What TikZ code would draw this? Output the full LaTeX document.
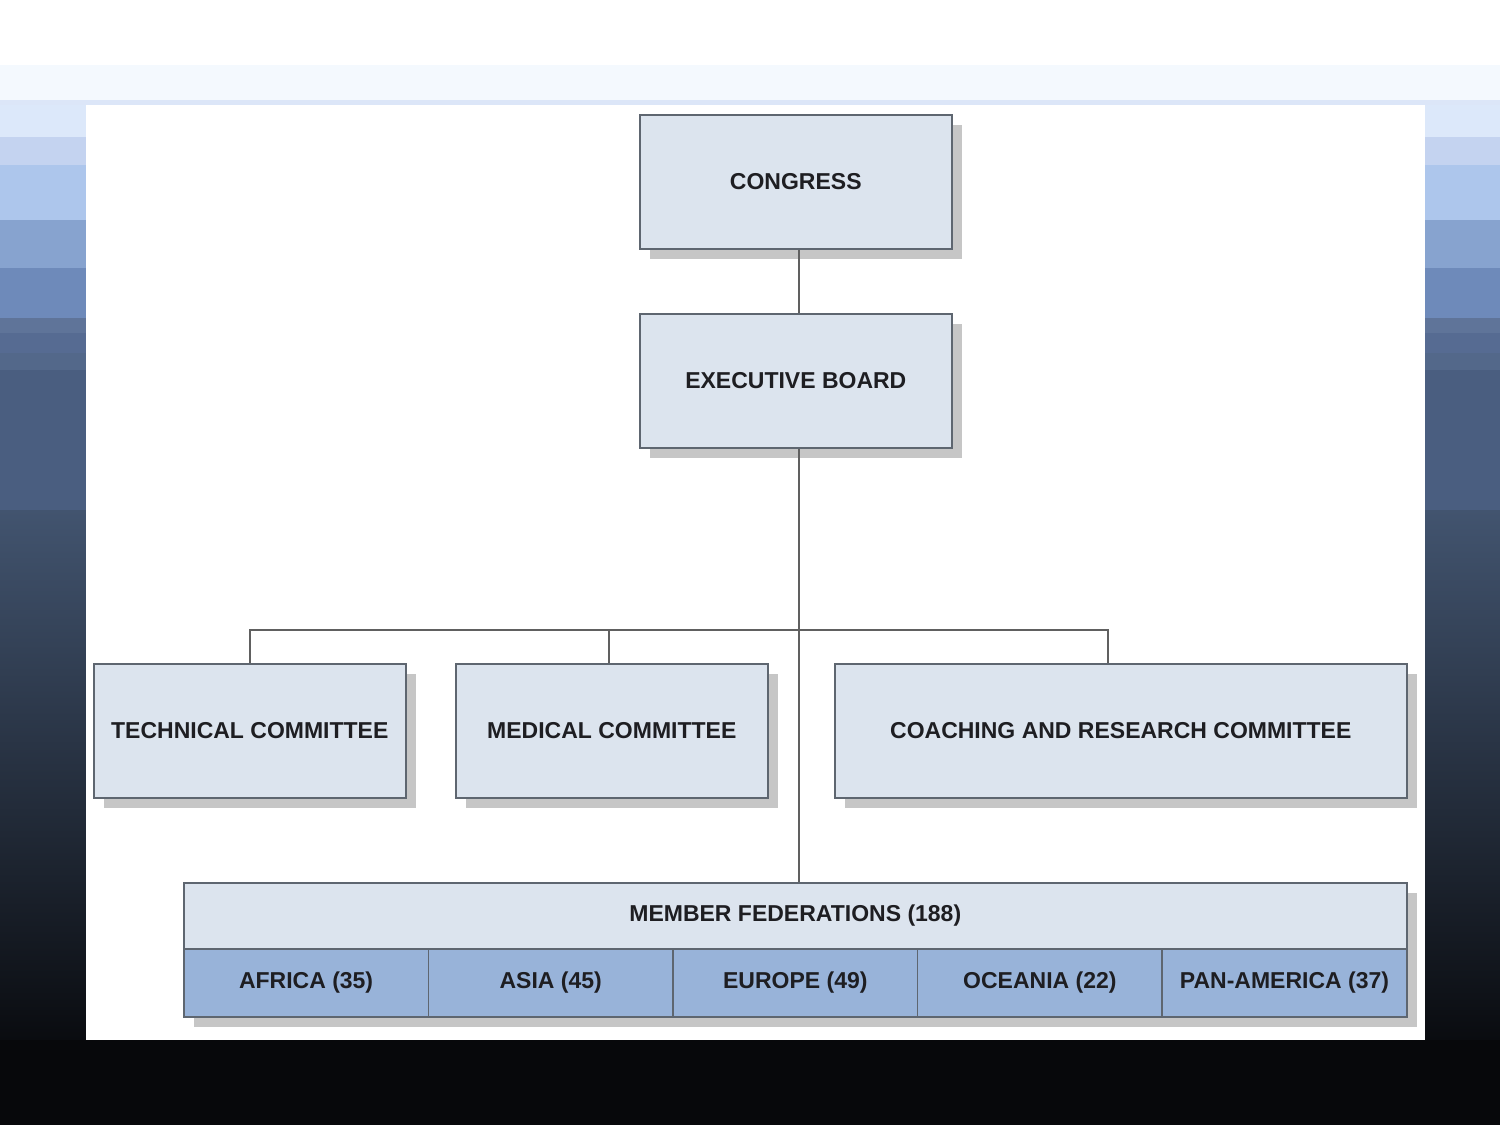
\documentclass[tikz,border=0pt]{standalone}
\usepackage{fontspec}
\setmainfont{Liberation Sans}
\usetikzlibrary{shadows}
\definecolor{boxfill}{HTML}{DCE4EE}
\definecolor{regfill}{HTML}{98B3D9}
\definecolor{boxline}{HTML}{5E6670}
\definecolor{txt}{HTML}{1E1E22}
\definecolor{shadowc}{HTML}{C6C6C6}
\definecolor{connc}{HTML}{606060}
\definecolor{bA}{HTML}{F4F9FE}
\definecolor{bB}{HTML}{DCE6F8}
\definecolor{bC}{HTML}{DCE8FA}
\definecolor{bD}{HTML}{C4D3F0}
\definecolor{bE}{HTML}{ADC6EC}
\definecolor{bF}{HTML}{87A3CF}
\definecolor{bG}{HTML}{6E8ABA}
\definecolor{bH}{HTML}{5F7499}
\definecolor{bI}{HTML}{566B92}
\definecolor{bJ}{HTML}{53688A}
\definecolor{bK}{HTML}{4A5E80}
\definecolor{bL}{HTML}{42546F}
\definecolor{bM}{HTML}{232C3C}
\definecolor{bN}{HTML}{0A0C10}
\definecolor{bO}{HTML}{07080B}
\begin{document}
\begin{tikzpicture}[x=0.5pt,y=-0.5pt,
  box/.style={draw=boxline, line width=0.8pt, fill=boxfill, inner sep=0pt,
    anchor=north west, text=txt, font=\bfseries\fontsize{11.5}{13}\selectfont,
    drop shadow={shadow xshift=5pt, shadow yshift=-5pt, fill=shadowc, opacity=1}},
  regbox/.style={box, fill=regfill, minimum width=122.3pt, minimum height=34pt},
  conn/.style={draw=connc, line width=1pt}]
\useasboundingbox (0,0) rectangle (1500,1125);
% background
\fill[white] (0,0) rectangle (1500,65);
\fill[bA] (0,65) rectangle (1500,100);
\fill[bB] (0,100) rectangle (1500,105);
\fill[bC] (0,105) rectangle (1500,137);
\fill[bD] (0,137) rectangle (1500,165);
\fill[bE] (0,165) rectangle (1500,220);
\fill[bF] (0,220) rectangle (1500,268);
\fill[bG] (0,268) rectangle (1500,318);
\fill[bH] (0,318) rectangle (1500,333);
\fill[bI] (0,333) rectangle (1500,353);
\fill[bJ] (0,353) rectangle (1500,370);
\fill[bK] (0,370) rectangle (1500,510);
\shade[top color=bL, middle color=bM, bottom color=bN] (0,510) rectangle (1500,1040);
\fill[bO] (0,1040) rectangle (1500,1125);
\fill[white] (86,105) rectangle (1425,1040);
% nodes
\node[box, minimum width=156pt, minimum height=67pt] (congress) at (639,114) {CONGRESS};
\node[box, minimum width=156pt, minimum height=67pt] (exec) at (639,313) {EXECUTIVE BOARD};
\node[box, minimum width=156pt, minimum height=67pt] (tech) at (93,663) {TECHNICAL COMMITTEE};
\node[box, minimum width=156pt, minimum height=67pt] (med) at (455,663) {MEDICAL COMMITTEE};
\node[box, minimum width=286pt, minimum height=67pt] (coach) at (834,663) {COACHING AND RESEARCH COMMITTEE};
\node[box, minimum width=611.5pt, minimum height=33pt] (fed) at (183,882) {MEMBER FEDERATIONS (188)};
\node[regbox] (africa) at (183,948) {AFRICA (35)};
\node[regbox] (asia) at (427.6,948) {ASIA (45)};
\node[regbox] (europe) at (672.2,948) {EUROPE (49)};
\node[regbox] (oceania) at (916.8,948) {OCEANIA (22)};
\node[regbox] (panam) at (1161.4,948) {PAN-AMERICA (37)};
% connectors
\coordinate (bus) at (798,630);
\coordinate (coachtop) at ([xshift=-6.5pt]coach.north);
\coordinate (medtop) at ([xshift=-1.5pt]med.north);
\draw[conn] ([xshift=1.5pt]congress.south) -- ([xshift=1.5pt]exec.north);
\draw[conn] ([xshift=1.5pt]exec.south) -- ([xshift=1.5pt]exec.south |- fed.north);
\draw[conn] (tech.north) |- (bus) -| (coachtop);
\draw[conn] (medtop) -- (medtop |- bus);
\end{tikzpicture}
\end{document}
